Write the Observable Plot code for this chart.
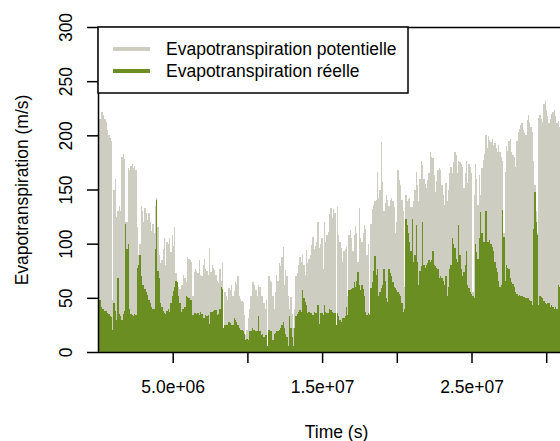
<!DOCTYPE html>
<html><head><meta charset="utf-8">
<script src="https://cdn.jsdelivr.net/npm/d3@7"></script>
<script src="https://cdn.jsdelivr.net/npm/@observablehq/plot@0.6"></script>
<style>
html,body{margin:0;padding:0;background:#fff;overflow:hidden;}
</style></head><body><div id="chart"></div>
<script>
// Daily values (day index 0..358), in m/s as labelled on the axis
const potentielle = [
210,215,222,222,219,215,212,205,200,198,
195,48,150,160,125,130,135,130,180,183,
178,120,120,170,168,172,174,170,172,168,
115,90,100,135,130,120,133,128,122,128,
120,112,118,110,135,142,115,90,82,85,
95,105,80,102,100,105,92,108,98,115,
73,65,60,58,62,62,71,68,65,88,
86,85,83,52,74,77,75,73,85,71,
70,80,86,77,75,71,96,74,80,78,
76,71,66,64,77,66,82,22,55,52,
48,59,57,62,52,56,65,63,70,52,
49,47,46,34,16,20,31,40,52,65,
65,62,57,52,62,60,52,52,45,40,
48,6,70,66,65,52,40,55,71,66,
82,79,88,97,62,76,70,52,40,51,
35,22,40,70,73,80,88,83,90,80,
71,94,82,86,90,99,106,95,98,102,
120,96,100,105,77,120,102,108,111,127,
133,124,132,128,25,134,108,102,96,83,
93,95,97,52,108,113,105,93,108,116,
110,83,133,105,102,110,117,114,90,100,
35,118,132,136,139,140,166,142,150,194,
157,130,138,145,140,135,140,142,139,134,
110,120,168,159,154,140,130,60,145,139,
141,142,134,134,139,150,166,154,139,160,
176,173,160,155,151,159,165,185,180,179,
163,148,158,168,170,168,154,145,136,156,
139,150,165,171,165,175,185,182,165,176,
175,174,171,151,165,176,156,174,171,165,
55,145,174,160,136,163,145,170,177,183,
200,188,199,196,194,197,191,193,188,185,
191,185,180,176,110,166,190,186,195,197,
185,182,180,171,195,203,206,210,211,205,
202,200,214,219,212,208,203,176,154,130,
110,216,219,215,212,229,232,223,218,211,
215,220,222,223,218,211,213,208,200
];
const reelle = [
45,48,42,40,40,38,38,36,35,33,
32,20,45,38,30,68,35,33,30,35,
38,118,95,100,40,35,34,33,35,34,
78,80,90,70,62,62,58,55,53,48,
45,42,40,40,95,140,75,68,45,42,
38,36,35,38,40,37,45,52,56,60,
66,65,52,45,37,40,40,42,52,51,
50,48,48,34,36,36,35,36,34,37,
35,31,31,34,33,34,26,37,37,38,
39,39,34,35,40,60,58,22,25,25,
25,28,27,25,25,31,30,28,25,22,
20,20,19,17,11,12,11,19,19,22,
20,20,19,19,33,19,16,17,14,16,
16,6,20,19,19,11,17,18,19,19,
20,22,25,28,22,17,14,6,33,22,
14,6,22,33,35,37,39,37,57,50,
46,43,36,37,36,36,34,37,36,36,
43,26,36,36,34,43,37,36,36,40,
39,37,36,36,25,36,33,30,28,31,
31,33,42,34,57,57,58,59,65,60,
66,74,62,57,62,58,52,37,34,36,
34,59,65,75,89,71,77,52,55,59,
62,77,66,50,46,77,73,70,65,60,
59,57,55,54,52,45,37,40,123,117,
110,102,93,123,83,90,117,83,62,75,
79,120,80,78,80,82,85,83,85,93,
80,79,78,77,68,70,68,66,62,70,
52,60,77,80,105,100,96,86,83,117,
90,77,70,74,80,93,62,59,55,54,
52,50,100,92,86,105,129,110,102,102,
130,102,102,103,100,97,93,83,78,74,
66,60,62,131,106,66,80,78,77,68,
65,63,60,55,54,52,53,52,52,51,
51,50,50,50,48,47,43,114,148,120,
108,43,52,51,50,47,45,44,45,45,
42,43,42,40,42,40,62,60,59
];
const secondsPerDay = 86400;
const xTicks = [5e6, 1e7, 1.5e7, 2e7, 2.5e7, 3e7];
const xTickLabels = ["5.0e+06", "", "1.5e+07", "", "2.5e+07", ""];
const yTicks = [0, 50, 100, 150, 200, 250, 300];
const seriesNames = ["Evapotranspiration potentielle", "Evapotranspiration réelle"];
const seriesColors = ["#CDCDC1", "#6B8E23"];
const xTitle = "Time (s)";
const yTitle = "Evapotranspiration (m/s)";

const rows = potentielle.map((v, i) => ({t1: i * secondsPerDay, t2: (i + 1) * secondsPerDay, pot: v, reel: reelle[i]}));
const font = "'Liberation Sans', Arial, Helvetica, sans-serif";
const fs = 17.5;

const chart = Plot.plot({
  width: 560, height: 441,
  marginLeft: 98, marginRight: 0, marginTop: 27, marginBottom: 89,
  style: {fontFamily: font, fontSize: fs + "px", background: "white", color: "black"},
  x: {domain: [0, 462 / 74.7 * 5e6]},
  y: {domain: [0, 300]},
  marks: [
    Plot.rectY(rows, {x1: "t1", x2: "t2", y1: 0, y2: "pot", fill: seriesColors[0], shapeRendering: "crispEdges"}),
    Plot.rectY(rows, {x1: "t1", x2: "t2", y1: 0, y2: "reel", fill: seriesColors[1], shapeRendering: "crispEdges"}),
    Plot.axisX({ticks: xTicks, tickSize: 11, tickFormat: () => "", label: null, strokeWidth: 1.5}),
    Plot.axisY({ticks: yTicks, tickSize: 11, tickFormat: () => "", label: null, strokeWidth: 1.5}),
    Plot.text(xTicks, {x: d => d, text: (d, i) => xTickLabels[i], frameAnchor: "bottom", dy: 35, lineAnchor: "middle", fontSize: fs}),
    Plot.text(yTicks, {y: d => d, text: d => String(d), frameAnchor: "left", dx: -32, rotate: -90, textAnchor: "middle", lineAnchor: "middle", fontSize: fs}),
    Plot.text([yTitle], {text: d => d, frameAnchor: "left", dx: -76, rotate: -90, textAnchor: "middle", lineAnchor: "middle", fontSize: fs}),
    Plot.text([xTitle], {text: d => d, frameAnchor: "bottom", dx: 7, dy: 80, textAnchor: "middle", lineAnchor: "middle", fontSize: fs}),
    Plot.ruleX([0], {stroke: "black", strokeWidth: 1.5}),
    Plot.ruleY([0, 300], {stroke: "black", strokeWidth: 1.5})
  ]
});
document.getElementById("chart").appendChild(chart);

// Legend (top-left, boxed)
const svg = d3.select(chart);
const lg = svg.append("g").attr("font-family", font).attr("font-size", fs).attr("text-anchor", "start");
lg.append("rect").attr("x", 98).attr("y", 27).attr("width", 310).attr("height", 66)
  .attr("fill", "white").attr("stroke", "black").attr("stroke-width", 1.5);
seriesNames.forEach((name, i) => {
  const cy = 49 + i * 22;
  lg.append("line").attr("x1", 113).attr("x2", 150).attr("y1", cy).attr("y2", cy)
    .attr("stroke", seriesColors[i]).attr("stroke-width", 4);
  lg.append("text").attr("x", 166).attr("y", cy).attr("dy", "0.35em")
    .attr("text-anchor", "start").attr("fill", "black").text(name);
});
</script></body></html>
